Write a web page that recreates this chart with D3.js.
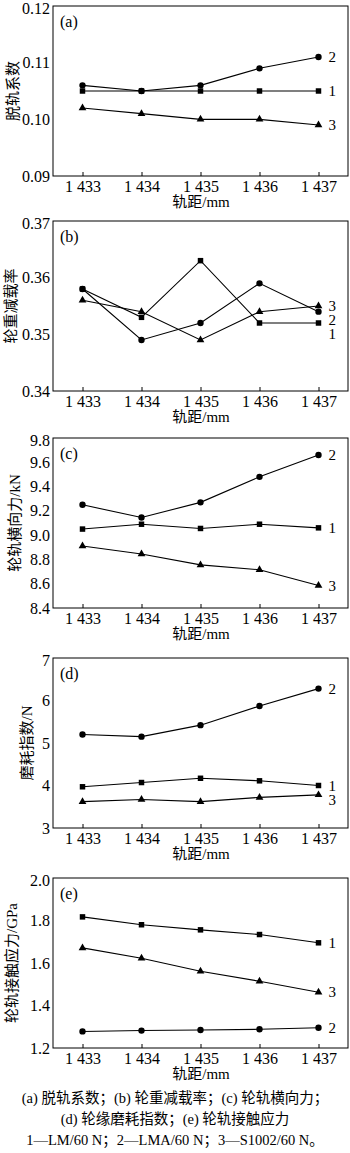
<!DOCTYPE html>
<html><head><meta charset="utf-8">
<script src="https://cdn.jsdelivr.net/npm/d3@7"></script>
<style>body{margin:0;background:#fff}svg{display:block}</style>
</head><body>
<script>
const gauges = [1433, 1434, 1435, 1436, 1437];
const gaugeLabels = ["1 433", "1 434", "1 435", "1 436", "1 437"];

// (a) derailment coefficient
const aLM   = [0.105, 0.105, 0.105, 0.105, 0.105];
const aLMA  = [0.106, 0.105, 0.106, 0.109, 0.111];
const aS1002= [0.102, 0.101, 0.100, 0.100, 0.099];
const aTicks= [0.09, 0.10, 0.11, 0.12];
// (b) wheel load reduction rate
const bLM   = [0.358, 0.353, 0.363, 0.352, 0.352];
const bLMA  = [0.358, 0.349, 0.352, 0.359, 0.354];
const bS1002= [0.356, 0.354, 0.349, 0.354, 0.355];
const bTicks= [0.34, 0.35, 0.36, 0.37];
// (c) lateral force kN
const cLM   = [9.05, 9.09, 9.055, 9.09, 9.06];
const cLMA  = [9.25, 9.145, 9.27, 9.48, 9.66];
const cS1002= [8.91, 8.845, 8.755, 8.715, 8.585];
const cTicks= [8.4, 8.6, 8.8, 9.0, 9.2, 9.4, 9.6, 9.8];
// (d) wear index N
const dLM   = [3.97, 4.07, 4.17, 4.11, 4.0];
const dLMA  = [5.2, 5.15, 5.42, 5.87, 6.28];
const dS1002= [3.62, 3.67, 3.62, 3.72, 3.78];
const dTicks= [3, 4, 5, 6, 7];
// (e) contact stress GPa
const eLM   = [1.817, 1.78, 1.756, 1.734, 1.695];
const eLMA  = [1.278, 1.282, 1.285, 1.288, 1.295];
const eS1002= [1.671, 1.622, 1.561, 1.514, 1.462];
const eTicks= [1.2, 1.4, 1.6, 1.8, 2.0];

const seriesNames = ["1", "2", "3"];
const captionLines = [
  "(a) 脱轨系数；(b) 轮重减载率；(c) 轮轨横向力；",
  "(d) 轮缘磨耗指数；(e) 轮轨接触应力",
  "1—LM/60 N；2—LMA/60 N；3—S1002/60 N。"
];

const panels = [
  {tag:"(a)", title:"脱轨系数", lm:aLM, lma:aLMA, s:aS1002, ticks:aTicks, fmt:".2f", top:6, tx:13},
  {tag:"(b)", title:"轮重减载率", lm:bLM, lma:bLMA, s:bS1002, ticks:bTicks, fmt:".2f", top:221, tx:11},
  {tag:"(c)", title:"轮轨横向力/kN", lm:cLM, lma:cLMA, s:cS1002, ticks:cTicks, fmt:".1f", top:438, tx:15},
  {tag:"(d)", title:"磨耗指数/N", lm:dLM, lma:dLMA, s:dS1002, ticks:dTicks, fmt:"d", top:658, tx:27},
  {tag:"(e)", title:"轮轨接触应力/GPa", lm:eLM, lma:eLMA, s:eS1002, ticks:eTicks, fmt:".1f", top:878, tx:12}
];

const W = 350, H = 1153;
const serif = "'Liberation Serif','Times New Roman',serif";
const cjk = "'Liberation Serif','Noto Sans CJK SC',serif";
const svg = d3.select("body").append("svg").attr("width", W).attr("height", H);

const left = 53, right = 348, ph = 170;
const x = d3.scaleLinear().domain([1432.5, 1437.5]).range([left, right]);

panels.forEach(p => {
  const y = d3.scaleLinear().domain([p.ticks[0], p.ticks[p.ticks.length-1]]).range([p.top + ph, p.top]);
  const g = svg.append("g");

  // x axis
  const xa = g.append("g").attr("transform", `translate(0,${p.top+ph})`)
    .call(d3.axisBottom(x).tickValues(gauges).tickSizeInner(-4).tickSizeOuter(0)
      .tickFormat((d,i) => gaugeLabels[i]).tickPadding(5));
  xa.select(".domain").remove();
  xa.selectAll("line").attr("stroke", "#000");
  xa.selectAll("text").attr("font-family", serif).attr("font-size", 16).attr("fill", "#000");

  // y axis
  const ya = g.append("g").attr("transform", `translate(${left},0)`)
    .call(d3.axisLeft(y).tickValues(p.ticks).tickSize(0).tickPadding(3).tickFormat(d3.format(p.fmt)));
  ya.select(".domain").remove();
  ya.selectAll("text").attr("font-family", serif).attr("font-size", 16).attr("fill", "#000")
    .attr("dy", (d,i) => i === p.ticks.length - 1 ? "0.45em" : "0.32em");

  // frame
  g.append("rect").attr("x", left).attr("y", p.top).attr("width", right-left).attr("height", ph)
    .attr("fill", "none").attr("stroke", "#000").attr("stroke-width", 1);

  // axis titles
  g.append("text").attr("x", 201).attr("y", p.top + ph + 31)
    .attr("text-anchor", "middle").attr("font-family", cjk).attr("font-size", 15).text("轨距/mm");
  g.append("text").attr("transform", `translate(${p.tx},${p.top+ph/2}) rotate(-90)`)
    .attr("text-anchor", "middle").attr("dominant-baseline", "central")
    .attr("font-family", cjk).attr("font-size", 15).text(p.title);
  g.append("text").attr("x", left + 7).attr("y", p.top + 21)
    .attr("font-family", serif).attr("font-size", 16).text(p.tag);

  const line = d3.line().x((d,i) => x(gauges[i])).y(d => y(d));
  const sets = [
    {vals:p.lm, sym:d3.symbolSquare, size:30, name:seriesNames[0]},
    {vals:p.lma, sym:d3.symbolCircle, size:32, name:seriesNames[1]},
    {vals:p.s, sym:d3.symbolTriangle, size:26, name:seriesNames[2]}
  ];
  sets.forEach(s => {
    g.append("path").attr("d", line(s.vals)).attr("fill", "none").attr("stroke", "#000").attr("stroke-width", 1.1);
    g.selectAll(null).data(s.vals).enter().append("path")
      .attr("transform", (d,i) => `translate(${x(gauges[i])},${y(d)})`)
      .attr("d", d3.symbol().type(s.sym).size(s.size)).attr("fill", "#000");
  });

  // series labels, placed near the last point, nudged apart
  const lastY = sets.map(s => ({name:s.name, y:y(s.vals[s.vals.length-1])}));
  lastY.sort((a,b) => a.y - b.y);
  for (let i = 1; i < lastY.length; i++) {
    if (lastY[i].y - lastY[i-1].y < 14) lastY[i].y = lastY[i-1].y + 14;
  }
  lastY.forEach(l => {
    g.append("text").attr("x", x(1437) + 10).attr("y", l.y).attr("dominant-baseline", "central")
      .attr("font-family", serif).attr("font-size", 15).text(l.name);
  });
});

svg.selectAll(null).data(captionLines).enter().append("text")
  .attr("x", W/2).attr("y", (d,i) => 1103 + i*21).attr("text-anchor", "middle")
  .attr("font-family", cjk).attr("font-size", 14.5).attr("fill", "#000").text(d => d);
</script>
</body></html>
